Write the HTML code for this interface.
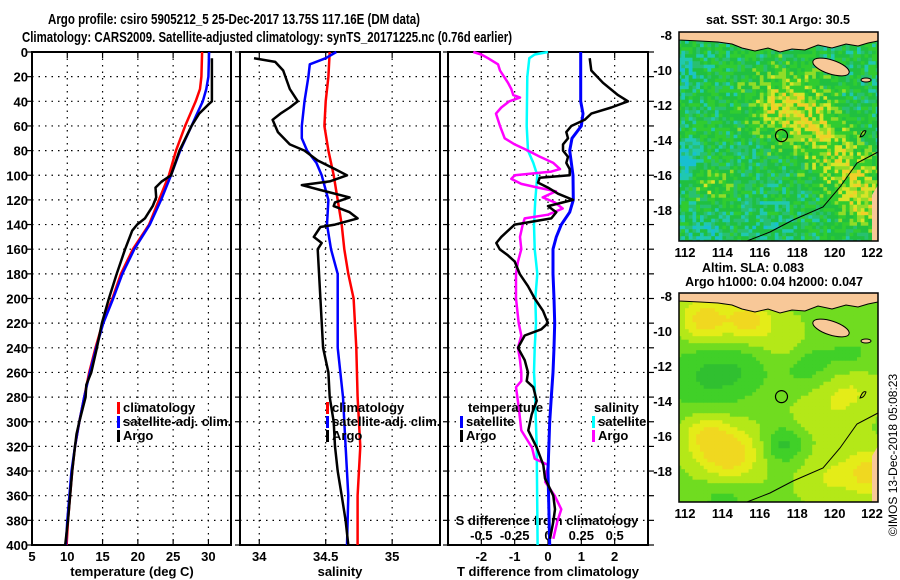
<!DOCTYPE html>
<html><head><meta charset="utf-8">
<style>
html,body{margin:0;padding:0;background:#fff;}
svg{display:block;font-family:"Liberation Sans",sans-serif;font-weight:bold;}
</style></head>
<body>
<svg id="c" width="900" height="580" viewBox="0 0 900 580">
<defs>
<clipPath id="clipTop"><rect x="679" y="32" width="199" height="209"/></clipPath>
<clipPath id="clipBot"><rect x="679" y="293" width="199" height="209"/></clipPath>
</defs>
<text x="48" y="24" font-size="15" textLength="372" lengthAdjust="spacingAndGlyphs">Argo profile: csiro 5905212_5 25-Dec-2017 13.75S 117.16E (DM data)</text>
<text x="22" y="42" font-size="15" textLength="490" lengthAdjust="spacingAndGlyphs">Climatology: CARS2009. Satellite-adjusted climatology: synTS_20171225.nc (0.76d earlier)</text>
<g id="plots"></g>
<g id="maps"></g>
<text transform="translate(897,455) rotate(-90)" font-size="12" font-weight="normal" text-anchor="middle">©IMOS 13-Dec-2018 05:08:23</text>
</svg>
<script>
// ---------- data ----------
const depthTicks=[0,20,40,60,80,100,120,140,160,180,200,220,240,260,280,300,320,340,360,380,400];
const tempTicks=[5,10,15,20,25,30];
const salTicks=[34,34.5,35];
const diffTTicks=[-2,-1,0,1,2];
const diffSTicks=[-0.5,-0.25,0,0.25,0.5];
const diffSLabels=['-0.5','-0.25','0','0.25','0.5'];

const climTDepth=[0,20,30,40,60,80,100,120,140,160,180,200,220,240,260,280,300,320,340,360,380,400];
const climT=[29.1,29,28.8,28.2,26.7,25.4,24.4,23,21.6,19.3,17.6,16.4,15,14,13.1,12.4,11.7,11.1,10.7,10.4,10.1,9.9];
const satTDepth=[0,20,30,40,50,60,80,100,120,140,160,180,200,220,240,260,280,300,320,340,360,380,400];
const satT=[30.1,30,29.7,29.2,28.4,27.6,26,24.7,23.3,21.7,19.5,17.8,16.5,15.1,14.1,13.2,12.4,11.7,11.1,10.6,10.3,10,9.8];
const argoTDepth=[5,40,42,50,60,80,100,105,110,118,125,135,140,145,160,180,200,220,240,260,270,280,300,310,320,340,360,380,400];
const argoT=[30.5,30.5,30.1,28.7,27.6,25.9,24.7,23.4,22.5,22.6,22.1,21,19.9,19.2,18.2,17,15.9,14.9,14.2,13.4,12.7,12.6,11.7,11.3,11.1,10.7,10.4,10.1,9.7];

const climSDepth=[0,20,40,60,80,100,120,140,160,180,200,240,280,320,360,400];
const climS=[34.53,34.52,34.5,34.49,34.52,34.56,34.59,34.62,34.64,34.67,34.71,34.73,34.74,34.76,34.74,34.74];
const satSDepth=[0,5,10,20,40,60,70,80,90,100,120,140,160,180,200,240,280,320,360,400];
const satS=[34.58,34.5,34.38,34.37,34.34,34.32,34.32,34.36,34.43,34.47,34.52,34.51,34.54,34.59,34.59,34.59,34.63,34.65,34.67,34.66];
const argoSDepth=[5,8,15,30,40,45,50,55,65,75,80,88,95,100,105,108,112,118,122,125,130,135,140,142,150,155,160,200,240,260,280,300,320,340,360,380,400];
const argoS=[33.96,34.12,34.18,34.23,34.29,34.23,34.16,34.1,34.14,34.23,34.34,34.44,34.57,34.66,34.53,34.32,34.46,34.68,34.57,34.56,34.68,34.74,34.57,34.46,34.41,34.47,34.44,34.46,34.48,34.52,34.53,34.56,34.57,34.59,34.62,34.65,34.67];

const dTsatDepth=[0,20,40,50,60,70,80,100,120,130,140,150,160,180,200,220,240,260,280,300,340,400];
const dTsat=[0.98,0.98,0.98,1.05,1.0,0.72,0.65,0.75,0.76,0.65,0.4,0.25,0.15,0.15,0.18,0.2,0.18,0.15,0.1,0.05,0.0,0.05];
const dTargoDepth=[5,15,25,35,40,45,50,55,60,65,70,75,80,85,90,95,100,102,106,110,115,120,125,130,135,140,145,150,155,160,165,170,180,190,200,210,220,225,230,240,250,260,267,272,283,294,307,321,335,346,360,371,381,395];
const dTargo=[1.25,1.3,1.65,2.1,2.4,1.9,1.3,1.1,0.7,0.55,0.6,0.45,0.45,0.6,0.55,0.65,0.65,-0.25,-0.3,0,0.3,0.75,0,0.25,0.1,-1.0,-1.2,-1.4,-1.55,-1.45,-1.2,-1.0,-0.85,-0.6,-0.4,-0.15,0,-0.2,-0.7,-0.9,-0.7,-0.6,-0.64,-0.44,-0.34,-0.49,-0.59,-0.34,-0.14,-0.09,0.16,0.21,0.16,0.06];
const dSsatDepth=[0,2,5,20,60,80,90,100,120,140,160,180,200,220,240,260,270,320,400];
const dSsat=[0,-0.1,-0.14,-0.155,-0.16,-0.15,-0.11,-0.08,-0.095,-0.105,-0.1,-0.08,-0.095,-0.09,-0.1,-0.105,-0.1,-0.085,-0.078];
const dSargoDepth=[0,2,5,10,15,25,30,35,37,40,45,50,60,70,75,80,85,90,95,97,100,103,107,110,113,118,122,127,132,135,140,150,160,170,180,200,220,230,240,250,260,267,272,288,307,321,330,335,349,360,371,381,395];
const dSargo=[-0.56,-0.5,-0.45,-0.375,-0.36,-0.3,-0.275,-0.26,-0.21,-0.29,-0.35,-0.39,-0.36,-0.325,-0.25,-0.15,-0.06,0.04,0.09,0.025,-0.25,-0.275,-0.2,-0.075,0.06,-0.04,0.05,0.11,0,-0.175,-0.19,-0.21,-0.2,-0.225,-0.24,-0.24,-0.22,-0.2,-0.225,-0.21,-0.2,-0.2,-0.24,-0.22,-0.2,-0.12,-0.1,0,-0.02,0.05,0.1,0.07,0.04];

// ---------- helpers ----------
const NS='http://www.w3.org/2000/svg';
function mk(tag,attrs,parent){const e=document.createElementNS(NS,tag);for(const k in attrs)e.setAttribute(k,attrs[k]);parent.appendChild(e);return e;}
const plots=document.getElementById('plots');
const Y0=52,Y1=545;
function yD(d){return Y0+d*(Y1-Y0)/400;}
const panels=[
 {x0:32,x1:231,v0:5,v1:33.2,name:'temperature-panel'},
 {x0:240,x1:440,v0:33.855,v1:35.36,name:'salinity-panel'},
 {x0:448,x1:648,v0:-3,v1:3,name:'difference-panel'}
];
function xf(p,v){return p.x0+(v-p.v0)*(p.x1-p.x0)/(p.v1-p.v0);}
const sDiffP={x0:448,x1:648,v0:-0.75,v1:0.75};

function line(p,depths,vals,color,name,w){
  let d='';
  for(let i=0;i<vals.length;i++){d+=(i?'L':'M')+xf(p,vals[i]).toFixed(1)+' '+yD(depths[i]).toFixed(1);}
  const e=mk('path',{d:d,fill:'none',stroke:color,'stroke-width':w||2.5,'stroke-linejoin':'round'},plots);
  
  
}
function txt(x,y,s,attrs,name,parent){
  const e=mk('text',Object.assign({x:x,y:y,'font-size':12.5},attrs||{}),parent||plots);
  e.textContent=s;
  
  
  return e;
}

panels.forEach((p,pi)=>{
  const g=mk('g',{},plots);
  
  
  depthTicks.forEach(d=>{
    const y=yD(d);
    if(d>0&&d<400) mk('line',{x1:p.x0,x2:p.x1,y1:y,y2:y,stroke:'#000','stroke-width':1.2,'stroke-dasharray':'1.5 5'},g);
    mk('line',{x1:p.x0-5,x2:p.x0,y1:y,y2:y,stroke:'#000','stroke-width':1.2},g);
    if(pi===2) mk('line',{x1:p.x1,x2:p.x1+6,y1:y,y2:y,stroke:'#000','stroke-width':1.2},g);
  });
  const ticks=pi===0?tempTicks:pi===1?salTicks:diffTTicks;
  ticks.forEach(v=>{
    const x=xf(p,v);
    mk('line',{x1:x,x2:x,y1:Y0,y2:Y1,stroke:'#000','stroke-width':1.2,'stroke-dasharray':'1.5 5'},g);
    mk('line',{x1:x,x2:x,y1:Y0,y2:Y0+6,stroke:'#000','stroke-width':1.2},g);
    mk('line',{x1:x,x2:x,y1:Y1-6,y2:Y1,stroke:'#000','stroke-width':1.2},g);
    txt(x,561,String(v),{'text-anchor':'middle','font-size':13},'x-tick-label');
  });
  mk('rect',{x:p.x0,y:Y0,width:p.x1-p.x0,height:Y1-Y0,fill:'none',stroke:'#000','stroke-width':2},g);
});
depthTicks.forEach(d=>{txt(28,yD(d)+5,String(d),{'text-anchor':'end','font-size':13},'y-tick-label');});

txt(132,576,'temperature (deg C)',{'text-anchor':'middle','font-size':13},'x-axis-title-temperature');
txt(340,576,'salinity',{'text-anchor':'middle','font-size':13},'x-axis-title-salinity');
txt(548,576,'T difference from climatology',{'text-anchor':'middle','font-size':13},'x-axis-title-t-difference');
txt(547,525,'S difference from climatology',{'text-anchor':'middle','font-size':13},'s-difference-axis-title');
diffSTicks.forEach((v,i)=>{txt(xf(sDiffP,v),540,diffSLabels[i],{'text-anchor':'middle','font-size':13},'s-tick-label');});

const P1=panels[0],P2=panels[1],P3=panels[2];
line(P1,climTDepth,climT,'#f00','climatology-temperature-line');
line(P1,satTDepth,satT,'#00f','satellite-temperature-line');
line(P1,argoTDepth,argoT,'#000','argo-temperature-line');
line(P2,climSDepth,climS,'#f00','climatology-salinity-line');
line(P2,satSDepth,satS,'#00f','satellite-salinity-line');
line(P2,argoSDepth,argoS,'#000','argo-salinity-line');
line(sDiffP,dSsatDepth,dSsat,'#00ffff','satellite-s-diff-line');
line(sDiffP,dSargoDepth,dSargo,'#ff00ff','argo-s-diff-line');
line(P3,dTsatDepth,dTsat,'#00f','satellite-t-diff-line',3);
line(P3,dTargoDepth,dTargo,'#000','argo-t-diff-line');

function legend(x,y,color,label,name){
  const r=mk('rect',{x:x,y:y-10,width:3,height:12,fill:color},plots);
  
  
  txt(x+6,y,label,{'font-size':13},name);
}
[117,326].forEach(lx=>{
  legend(lx,412,'#f00','climatology','legend-climatology');
  legend(lx,426,'#00f','satellite-adj. clim.','legend-satellite-adj');
  legend(lx,440,'#000','Argo','legend-argo');
});
txt(468,412,'temperature',{'font-size':13},'legend-temperature-header');
legend(460,426,'#00f','satellite','legend-t-satellite');
legend(460,440,'#000','Argo','legend-t-argo');
txt(594,412,'salinity',{'font-size':13},'legend-salinity-header');
legend(592,426,'#00ffff','satellite','legend-s-satellite');
legend(592,440,'#ff00ff','Argo','legend-s-argo');

// ---------- maps ----------
const mapsG=document.getElementById('maps');
const lonTicks=[112,114,116,118,120,122];
const latTicks=[-8,-10,-12,-14,-16,-18];
const argoLon=117.16, argoLat=-13.75;
const sstBlobs=[[117.5,-11.8,0.25,1.4],[119,-13.5,0.18,1.0],[120.5,-15.5,0.2,1.2],[121.5,-17.5,0.24,0.9],[113.5,-16.5,0.14,0.7],[111.9,-15,-0.25,0.6],[112.0,-10,-0.15,0.6],[113,-19.3,-0.14,0.7],[116,-18.5,-0.06,1.2]];
const slaBlobs=[[113,-9.3,0.3,0.9],[115.3,-9.3,0.28,0.8],[117.3,-10.5,0.12,0.9],[114.2,-17,0.32,1.1],[113,-15.8,0.2,0.8],[119.5,-14,0.12,1.3],[121,-13,0.1,1.0],[121.8,-18,0.28,0.9],[119.5,-18.3,0.12,1.0],[113,-12.5,-0.18,1.4],[117.2,-16.4,-0.2,0.7],[118.5,-12,-0.14,1.2],[115,-12.2,-0.1,1.0],[114,-19.3,-0.12,1.0],[121,-11.5,-0.1,0.9]];
function hash(i,j){let h=(i*374761393+j*668265263)>>>0;h=((h^(h>>>13))*1274126177)>>>0;return ((h^(h>>>16))%1000)/1000;}
function drawMap(top,blobs,ramp,noise,base,titles,nm,clipId){
  const g=mk('g',{},mapsG);
  
  
  const hm=mk('g',{'clip-path':'url(#'+clipId+')'},g);
  const fx0=679,fx1=878,fy0=top-3,fy1=top+206;
  const lx=lon=>685+(lon-112)*18.7;
  const ly=lat=>top+(-8-lat)*17.5;
  const step=0.2, cw=18.7*step, ch=17.5*step;
  let i=0;
  for(let lon=111.6;lon<122.5;lon+=step,i++){
    let j=0;
    for(let lat=-7.7;lat>-20;lat-=step,j++){
      let v=base;
      blobs.forEach(b=>{v+=b[2]*Math.exp(-((lon-b[0])**2+(lat-b[1])**2)/(2*b[3]*b[3]));});
      if(noise) v+=(hash(i,j)-0.5)*0.14;
      let c=ramp[0][1];
      for(const r of ramp){if(v>=r[0])c=r[1];}
      mk('rect',{x:lx(lon).toFixed(1),y:ly(lat).toFixed(1),width:(cw+0.5).toFixed(1),height:(ch+0.5).toFixed(1),fill:c},hm);
    }
  }
  const t=fy0;
  const land=[[679,0],[878,0],[878,9],[868,11],[858,14],[846,12],[832,16],[818,13],[805,18],[792,17],[780,20],[768,16],[755,19],[742,16],[732,12],[718,10],[700,9],[679,8]];
  mk('path',{d:'M'+land.map(p=>p[0]+' '+(t+p[1])).join('L')+'Z',fill:'#f8c898',stroke:'#000','stroke-width':1},hm);
  mk('ellipse',{cx:831,cy:top+32,rx:19,ry:7,transform:`rotate(18 831 ${top+32})`,fill:'#f8c898',stroke:'#000','stroke-width':1},hm);
  mk('ellipse',{cx:866,cy:top+45,rx:5,ry:2,fill:'#f8c898',stroke:'#000','stroke-width':1},hm);
  mk('path',{d:`M872 ${top+160}L878 ${top+150}L878 ${fy1}L872 ${fy1}Z`,fill:'#f8c898'},hm);
  mk('path',{d:`M747 ${fy1}L770 ${top+197}L793 ${top+185}L823 ${top+172}L840 ${top+152}L857 ${top+128}L878 ${top+117}`,fill:'none',stroke:'#000','stroke-width':1},hm);
  mk('path',{d:`M860 ${top+102}q3 -8 6 -6q-2 6 -6 6z`,fill:'none',stroke:'#000','stroke-width':1},hm);
  const circ=mk('circle',{cx:lx(argoLon),cy:ly(argoLat),r:6,fill:'none',stroke:'#000','stroke-width':1.2},g);
  
  
  mk('rect',{x:fx0,y:fy0,width:fx1-fx0,height:fy1-fy0,fill:'none',stroke:'#000','stroke-width':1.5},g);
  latTicks.forEach(l=>{txt(672,ly(l)+5,String(l),{'text-anchor':'end','font-size':13},'lat-tick-label',g);});
  lonTicks.forEach(l=>{txt(lx(l),fy1+16,String(l),{'text-anchor':'middle','font-size':13},'lon-tick-label',g);});
  titles.forEach(tt=>{txt(tt[0],tt[1],tt[2],{'text-anchor':'middle','font-size':12.5},'map-title',g);});
}
const sstRamp=[[-9,'#18c0d0'],[0.22,'#20c8b0'],[0.3,'#28c070'],[0.36,'#20c040'],[0.46,'#30cc30'],[0.56,'#90dc28'],[0.63,'#d8e428'],[0.7,'#f0d028']];
const slaRamp=[[-9,'#30c030'],[0.36,'#40d028'],[0.46,'#70dc20'],[0.55,'#b4e818'],[0.65,'#e4ec18'],[0.75,'#f0d820']];
drawMap(35,sstBlobs,sstRamp,true,0.47,[[778,24,'sat. SST: 30.1  Argo: 30.5']],'sst-map','clipTop');
drawMap(296,slaBlobs,slaRamp,false,0.53,[[753,272,'Altim. SLA: 0.083'],[774,286,'Argo h1000: 0.04 h2000: 0.047']],'sla-map','clipBot');
</script>
</body></html>
